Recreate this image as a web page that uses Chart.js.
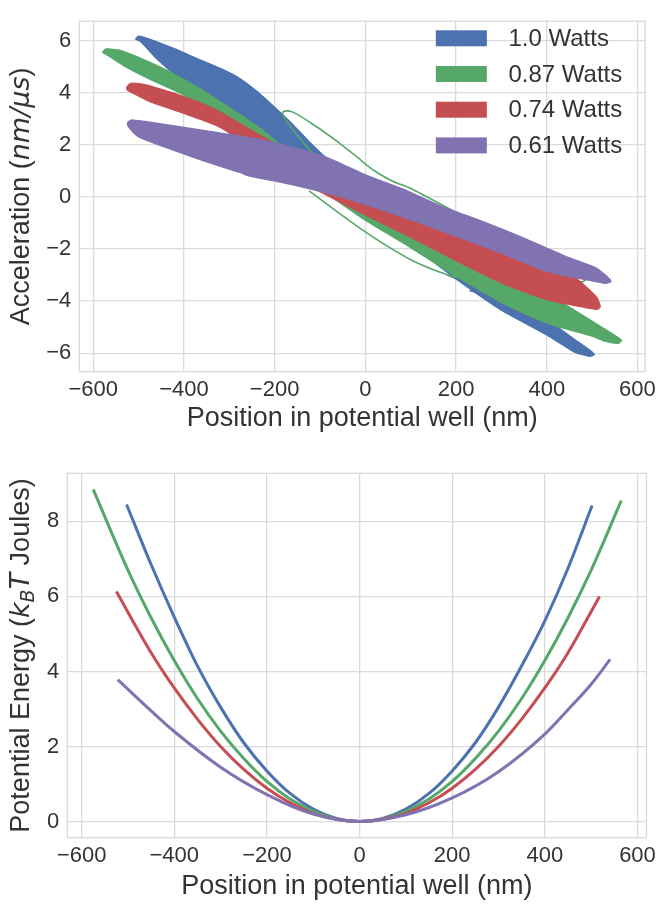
<!DOCTYPE html>
<html><head><meta charset="utf-8">
<script src="https://cdn.jsdelivr.net/npm/chart.js@4.4.1/dist/chart.umd.min.js"></script>
<style>
html,body{margin:0;padding:0;background:#fff;}
#w1{position:absolute;left:0;top:0;width:661px;height:440px;}
#w2{position:absolute;left:0;top:440px;width:661px;height:464px;}
</style></head><body>
<div id="w1"><canvas id="c1"></canvas></div>
<div id="w2"><canvas id="c2"></canvas></div>
<script>
// ---------- shared labels ----------
const seriesLabels = ['1.0 Watts', '0.87 Watts', '0.74 Watts', '0.61 Watts'];
const seriesColors = ['#4C72B0', '#55A868', '#C44E52', '#8172B2'];
const xTicks = [-600, -400, -200, 0, 200, 400, 600];
const accTicks = [-6, -4, -2, 0, 2, 4, 6];
const energyTicks = [0, 2, 4, 6, 8];
const xTitle = 'Position in potential well (nm)';
const accTitleParts = ['Acceleration (', 'nm/\u03BCs', ')'];
const accTitleStyles = ['n', 'i', 'n'];
const energyTitleParts = ['Potential Energy (', 'k', 'B', 'T', ' Joules)'];
const energyTitleStyles = ['n', 'i', 'sub', 'i', 'n'];

// ---------- top panel: outlines of the filled phase-space regions [x nm, y nm/us] ----------
const blueShape = [[-507,6.05],[-500,6.17],[-470,6.02],[-420,5.68],[-370,5.3],[-320,4.93],[-280,4.58],[-240,4.06],[-200,3.44],[-160,2.78],[-124,2.12],[-80,1.4],[-40,0.82],[0,0.3],[100,-0.95],[200,-2.15],[300,-3.45],[400,-4.7],[460,-5.45],[500,-5.95],[505,-6.05],
  [495,-6.12],[460,-5.95],[400,-5.3],[300,-4.35],[200,-3.15],[100,-1.85],[0,-0.75],[-100,0.6],[-200,1.85],[-300,3.1],[-400,4.4],[-460,5.3],[-495,5.95]];
const greenShape = [[-580,5.55],[-572,5.68],[-540,5.62],[-500,5.35],[-431,4.8],[-360,4.1],[-293,3.35],[-230,2.6],[-184,1.95],[-124,1.3],[0,0.2],[100,-0.75],[200,-1.75],[300,-2.75],[400,-3.7],[480,-4.55],[540,-5.2],[565,-5.5],
  [558,-5.62],[530,-5.55],[500,-5.35],[400,-4.85],[300,-4.05],[200,-3.05],[100,-1.95],[0,-0.9],[-100,0.3],[-200,1.5],[-300,2.7],[-400,3.9],[-480,4.55],[-530,5.0],[-565,5.4]];
const redShape = [[-527,4.2],[-518,4.36],[-490,4.32],[-475,4.26],[-400,3.85],[-330,3.35],[-256,2.6],[-200,2.05],[-150,1.5],[-100,1.0],[0,0.25],[100,-0.45],[200,-1.1],[300,-1.7],[400,-2.45],[470,-3.2],[510,-3.85],[518,-4.22],
  [510,-4.32],[470,-4.2],[400,-3.95],[300,-3.3],[200,-2.45],[100,-1.55],[0,-0.7],[-100,0.2],[-200,1.15],[-300,2.45],[-330,2.75],[-400,3.2],[-475,3.65],[-515,4.0],[-525,4.1]];
const purpleShape = [[-525,2.85],[-515,2.95],[-435,2.76],[-343,2.51],[-250,2.26],[-157,1.89],[-83,1.5],[0,0.85],[83,0.3],[167,-0.35],[259,-0.95],[352,-1.6],[444,-2.3],[509,-2.73],[542,-3.23],
  [530,-3.32],[491,-3.2],[398,-2.85],[306,-2.2],[213,-1.6],[120,-1.0],[28,-0.45],[-65,0.05],[-157,0.45],[-250,0.8],[-343,1.3],[-417,1.75],[-500,2.3],[-523,2.7]];
// thin trajectory excursions drawn as open lines
const greenLoopA = [[-96,1.25],[-130,1.95],[-165,2.7],[-182,3.15],[-180,3.28],[-160,3.25],[-110,2.72],[-60,2.1],[-20,1.55],[20,1.0],[60,0.6],[97,0.35],[200,-0.6],[300,-1.5],[400,-2.35],[472,-3.04],[485,-3.2],[470,-3.28],[420,-3.22]];
const greenLoopB = [[-124,0.23],[-66,-0.52],[-8,-1.25],[40,-1.8],[110,-2.5],[183,-3.0],[231,-3.2],[250,-3.28]];
const blueLoop = [[180,-3.0],[240,-3.4],[285,-3.62],[292,-3.72],[270,-3.75],[230,-3.6]];
const purpleLoop = [[-200,0.62],[-250,0.78],[-270,0.9],[-272,1.05],[-255,1.1],[-230,1.0]];

// ---------- bottom panel: potential energy curves ----------
const blueX = [-503,-450,-400,-350,-300,-250,-200,-150,-100,-50,0,50,100,150,200,250,300,350,400,450,502];
const blueU = [8.45,6.85,5.45,4.15,3.05,2.1,1.35,0.75,0.33,0.08,0.0,0.08,0.33,0.75,1.35,2.1,3.05,4.15,5.35,6.75,8.42];
const greenX = [-575,-500,-450,-400,-350,-300,-250,-200,-150,-100,-50,0,50,100,150,200,250,300,350,400,450,500,565];
const greenU = [8.85,6.7,5.43,4.29,3.28,2.41,1.68,1.07,0.6,0.27,0.07,0.0,0.07,0.27,0.6,1.07,1.68,2.41,3.28,4.29,5.43,6.7,8.55];
const redX = [-525,-450,-400,-350,-300,-250,-200,-150,-100,-50,0,50,100,150,200,250,300,350,400,450,518];
const redU = [6.13,4.5,3.56,2.73,2.0,1.39,0.89,0.5,0.22,0.06,0.0,0.06,0.22,0.5,0.89,1.39,2.0,2.73,3.56,4.5,6.0];
const purpleX = [-522,-450,-400,-300,-200,-100,0,100,200,300,400,450,500,541];
const purpleU = [3.78,2.95,2.4,1.45,0.72,0.2,0.0,0.18,0.63,1.33,2.33,2.98,3.66,4.32];

// ---------- styling ----------
const FAMILY = '"Liberation Sans", Arial, sans-serif';
const TEXT = '#333333';
const GRID = '#dadada';
const fmt = v => (v < 0 ? '\u2212' + Math.abs(v) : String(v));
const pts = arr => arr.map(p => ({x: p[0], y: p[1]}));
const closed = arr => pts(arr.concat([arr[0]]));
const zip = (xs, ys) => xs.map((x, i) => ({x: x, y: ys[i]}));

function drawVTitle(chart, parts, styles, cx) {
  const ctx = chart.ctx, a = chart.chartArea;
  const cy = (a.top + a.bottom) / 2;
  const F = 27;
  const fontOf = s => s === 'n' ? F + 'px ' + FAMILY
    : s === 'i' ? 'italic ' + F + 'px "DejaVu Sans", sans-serif'
    : 'italic ' + Math.round(F * 0.7) + 'px "DejaVu Sans", sans-serif';
  ctx.save();
  const widths = [];
  let total = 0;
  parts.forEach((p, i) => { ctx.font = fontOf(styles[i]); const w = ctx.measureText(p).width; widths.push(w); total += w; });
  ctx.translate(cx, cy);
  ctx.rotate(-Math.PI / 2);
  ctx.fillStyle = TEXT;
  ctx.textBaseline = 'alphabetic';
  ctx.textAlign = 'left';
  let x = -total / 2;
  const base = 0.35 * F;
  parts.forEach((p, i) => {
    ctx.font = fontOf(styles[i]);
    ctx.fillText(p, x, styles[i] === 'sub' ? base + 0.2 * F : base);
    x += widths[i];
  });
  ctx.restore();
}

const framePlugin = {
  id: 'frame',
  beforeDatasetsDraw(chart) {
    const ctx = chart.ctx, a = chart.chartArea;
    ctx.save();
    ctx.strokeStyle = GRID;
    ctx.lineWidth = 1.3;
    ctx.strokeRect(a.left, a.top, a.right - a.left, a.bottom - a.top);
    ctx.restore();
  }
};

function axisCfg(min, max, ticks, tickPad, fitFn) {
  return {
    type: 'linear', min: min, max: max,
    afterBuildTicks: s => { s.ticks = ticks.map(v => ({value: v})); },
    grid: {color: GRID, lineWidth: 1.3, drawTicks: false},
    border: {display: false},
    ticks: {padding: tickPad, color: TEXT, font: {family: FAMILY, size: 22}, callback: v => fmt(v), maxRotation: 0, autoSkip: false},
    afterFit: fitFn
  };
}

// ---------- chart 1 ----------
const topSets = [
  {label: seriesLabels[0], data: closed(blueShape), color: seriesColors[0], order: 8},
  {label: seriesLabels[1], data: closed(greenShape), color: seriesColors[1], order: 6},
  {label: seriesLabels[2], data: closed(redShape), color: seriesColors[2], order: 4},
  {label: seriesLabels[3], data: closed(purpleShape), color: seriesColors[3], order: 2}
].map(d => ({
  label: d.label, data: d.data, showLine: true, fill: 'shape', tension: 0.2,
  borderColor: d.color, backgroundColor: d.color, borderWidth: 1.2, pointRadius: 0, order: d.order
}));
const loopSets = [
  {data: pts(blueLoop), color: seriesColors[0], order: 7},
  {data: pts(greenLoopA), color: seriesColors[1], order: 5},
  {data: pts(greenLoopB), color: seriesColors[1], order: 5},
  {data: pts(purpleLoop), color: seriesColors[3], order: 1}
].map(d => ({
  label: '', data: d.data, showLine: true, fill: false, tension: 0.3,
  borderColor: d.color, backgroundColor: d.color, borderWidth: 1.6, pointRadius: 0, order: d.order
}));

const xAxis1 = axisCfg(-630.7, 616.9, xTicks, 5, s => { s.height = 68.3; });
xAxis1.title = {display: true, text: xTitle, color: TEXT, font: {family: FAMILY, size: 27}, padding: {top: 0, bottom: 5}};
const yAxis1 = axisCfg(-6.71, 6.74, accTicks, 8, s => { s.width = 79.3; });

new Chart(document.getElementById('c1'), {
  type: 'scatter',
  data: {datasets: topSets.concat(loopSets)},
  options: {
    responsive: true, maintainAspectRatio: false, animation: false, devicePixelRatio: 1,
    layout: {padding: {left: 0, right: 13.3, top: 6, bottom: 0}},
    scales: {x: xAxis1, y: yAxis1},
    plugins: {legend: {display: false}, tooltip: {enabled: false}, filler: {drawTime: 'beforeDatasetDraw'}}
  },
  plugins: [framePlugin, {
    id: 'decor1',
    afterDraw(chart) {
      drawVTitle(chart, accTitleParts, accTitleStyles, 19.5);
      const ctx = chart.ctx, a = chart.chartArea;
      ctx.save();
      seriesLabels.forEach((lab, i) => {
        const cy = 38.3 + i * 35.7;
        ctx.fillStyle = seriesColors[i];
        ctx.fillRect(a.right - 209.3, cy - 8, 51, 16);
        ctx.fillStyle = TEXT;
        ctx.font = '24px ' + FAMILY;
        ctx.textBaseline = 'middle';
        ctx.textAlign = 'left';
        ctx.fillText(lab, a.right - 136.7, cy + 1);
      });
      ctx.restore();
    }
  }]
});

// ---------- chart 2 ----------
const curveData = [zip(blueX, blueU), zip(greenX, greenU), zip(redX, redU), zip(purpleX, purpleU)];
const bottomSets = curveData.map((d, i) => ({
  label: seriesLabels[i], data: d, showLine: true, fill: false, cubicInterpolationMode: 'monotone',
  borderColor: seriesColors[i], backgroundColor: seriesColors[i], borderWidth: 3, pointRadius: 0, order: 4 - i
}));
const xAxis2 = axisCfg(-630.9, 619.3, xTicks, 5, s => { s.height = 66.3; });
xAxis2.title = {display: true, text: xTitle, color: TEXT, font: {family: FAMILY, size: 27}, padding: {top: 0, bottom: 1.5}};
const yAxis2 = axisCfg(-0.43, 9.28, energyTicks, 8, s => { s.width = 67.3; });

new Chart(document.getElementById('c2'), {
  type: 'scatter',
  data: {datasets: bottomSets},
  options: {
    responsive: true, maintainAspectRatio: false, animation: false, devicePixelRatio: 1,
    layout: {padding: {left: 0, right: 10.3, top: 33.3, bottom: 0}},
    scales: {x: xAxis2, y: yAxis2},
    plugins: {legend: {display: false}, tooltip: {enabled: false}}
  },
  plugins: [framePlugin, {
    id: 'decor2',
    afterDraw(chart) { drawVTitle(chart, energyTitleParts, energyTitleStyles, 19.5); }
  }]
});
</script>
</body></html>
